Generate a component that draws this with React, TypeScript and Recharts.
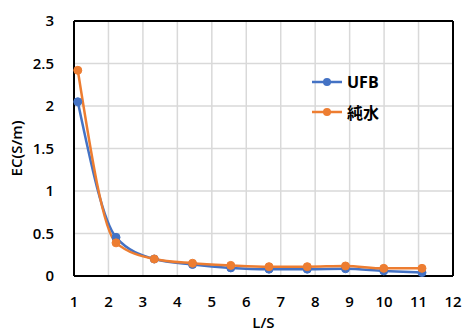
import { LineChart, Line, XAxis, YAxis, CartesianGrid, ReferenceLine } from 'recharts';

// L/S 比と EC の測定値
const lsValues = [1.11, 2.22, 3.33, 4.44, 5.55, 6.66, 7.77, 8.88, 9.99, 11.1];
const ufbEC = [2.05, 0.455, 0.2, 0.135, 0.095, 0.08, 0.08, 0.085, 0.06, 0.04];
const pureEC = [2.42, 0.39, 0.2, 0.15, 0.125, 0.11, 0.11, 0.118, 0.09, 0.09];
const xTicks = [1, 2, 3, 4, 5, 6, 7, 8, 9, 10, 11, 12];
const yTicks = [0, 0.5, 1, 1.5, 2, 2.5, 3];

const BLUE = '#4472C4';
const ORANGE = '#ED7D31';
const FONT = '"Open Sans", "Noto Sans CJK JP", sans-serif';

const data = lsValues.map((ls, i) => ({ ls, UFB: ufbEC[i], 純水: pureEC[i] }));

const tickStyle = { fontSize: 15, fontWeight: 600, fill: '#000', fontFamily: FONT };

function LegendBox() {
  const items = [
    { name: 'UFB', color: BLUE },
    { name: '純水', color: ORANGE },
  ];
  return (
    <div style={{ position: 'absolute', left: 311, top: 67, fontFamily: FONT }}>
      {items.map(it => (
        <div key={it.name} style={{ display: 'flex', alignItems: 'center', height: 30 }}>
          <svg width={32} height={12}>
            <line x1={1} y1={6} x2={31} y2={6} stroke={it.color} strokeWidth={2.5} />
            <circle cx={16} cy={6} r={4} fill={it.color} />
          </svg>
          <span style={{ marginLeft: 4, fontSize: 16, fontWeight: 700, color: '#000' }}>{it.name}</span>
        </div>
      ))}
    </div>
  );
}

export default function App() {
  return (
    <div style={{ position: 'absolute', left: 0, top: 0, width: 465, height: 334, background: '#fff' }}>
      <LineChart width={465} height={334} data={data} margin={{ top: 21, right: 12, left: 0, bottom: 0 }}>
        <CartesianGrid stroke="#d9d9d9" strokeWidth={1.5} />
        <XAxis
          type="number"
          dataKey="ls"
          domain={[1, 12]}
          ticks={xTicks}
          height={58}
          tick={tickStyle}
          tickLine={false}
          axisLine={{ stroke: '#000', strokeWidth: 2 }}
          tickMargin={14}
          label={{ value: 'L/S', position: 'insideBottom', offset: 6, style: tickStyle }}
        />
        <YAxis
          type="number"
          domain={[0, 3]}
          ticks={yTicks}
          width={74}
          tick={tickStyle}
          tickLine={false}
          axisLine={{ stroke: '#000', strokeWidth: 2 }}
          tickMargin={14}
          label={{ value: 'EC(S/m)', angle: -90, position: 'insideLeft', offset: 17, style: { ...tickStyle, textAnchor: 'middle' } }}
        />
        {/* 上と右の枠線 */}
        <ReferenceLine y={3} stroke="#000" strokeWidth={2} />
        <ReferenceLine x={12} stroke="#000" strokeWidth={2} />
        <Line
          type="monotone"
          dataKey="UFB"
          stroke={BLUE}
          strokeWidth={2.5}
          dot={{ r: 4, fill: BLUE, stroke: BLUE, strokeWidth: 1 }}
          isAnimationActive={false}
        />
        <Line
          type="monotone"
          dataKey="純水"
          stroke={ORANGE}
          strokeWidth={2.5}
          dot={{ r: 4, fill: ORANGE, stroke: ORANGE, strokeWidth: 1 }}
          isAnimationActive={false}
        />
      </LineChart>
      <LegendBox />
    </div>
  );
}
